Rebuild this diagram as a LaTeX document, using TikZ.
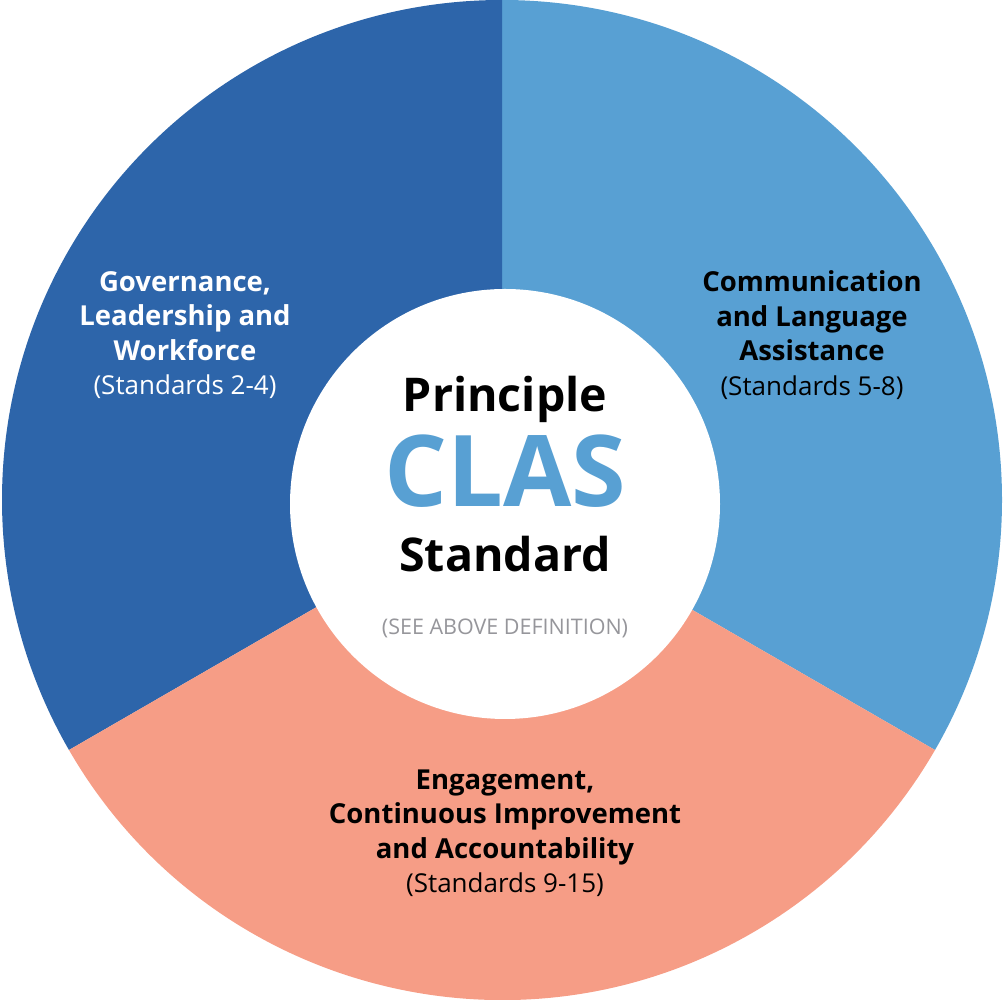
\documentclass[tikz,border=0pt]{standalone}
\usepackage{fontspec}
\setmainfont{Open Sans}
\definecolor{lightb}{RGB}{88,160,211}
\definecolor{darkb}{RGB}{45,101,170}
\definecolor{salmon}{RGB}{246,157,134}
\definecolor{greytxt}{RGB}{150,150,155}
\newcommand{\stdline}[1]{{\fontsize{26}{34.5}\selectfont #1}}
\begin{document}
\begin{tikzpicture}[x=1pt,y=1pt,
  seclabel/.style={align=center,inner sep=0pt,font=\fontsize{27.5}{34.5}\selectfont},
  ttl/.style={anchor=base,inner sep=0pt}]
\useasboundingbox (0,0) rectangle (1004,1000);
\coordinate (o) at (502,500);
% sectors
\fill[lightb] (o) -- ++(90:500) arc[start angle=90,end angle=-30,radius=500] -- cycle;
\fill[darkb] (o) -- ++(90:500) arc[start angle=90,end angle=210,radius=500] -- cycle;
\fill[salmon] (o) -- ++(210:500) arc[start angle=210,end angle=330,radius=500] -- cycle;
% inner circle
\node[circle,fill=white,minimum size=430pt,inner sep=0pt] (hub) at (505,496) {};
% center texts
\node[ttl,font=\fontsize{46.5}{46.5}\selectfont\bfseries] (principle) at (505,588) {Principle};
\node[ttl,font=\fontsize{99}{99}\selectfont\bfseries,text=lightb] (clas) at (505,493) {CLAS};
\node[ttl,font=\fontsize{46.5}{46.5}\selectfont\bfseries] (standard) at (505,428) {Standard};
\node[ttl,font=\fontsize{21.5}{21.5}\selectfont,text=greytxt] (see) at (505,365) {(SEE ABOVE DEFINITION)};
% sector labels
\node[seclabel,text=white] (gov) at (185,665) {\textbf{Governance,}\\\textbf{Leadership and}\\\textbf{Workforce}\\\stdline{(Standards 2-4)}};
\node[seclabel,text=black] (comm) at (812,665) {\textbf{Communication}\\\textbf{and Language}\\\textbf{Assistance}\\\stdline{(Standards 5-8)}};
\node[seclabel,text=black] (eng) at (505,167) {\textbf{Engagement,}\\\textbf{Continuous Improvement}\\\textbf{and Accountability}\\\stdline{(Standards 9-15)}};
\end{tikzpicture}
\end{document}
